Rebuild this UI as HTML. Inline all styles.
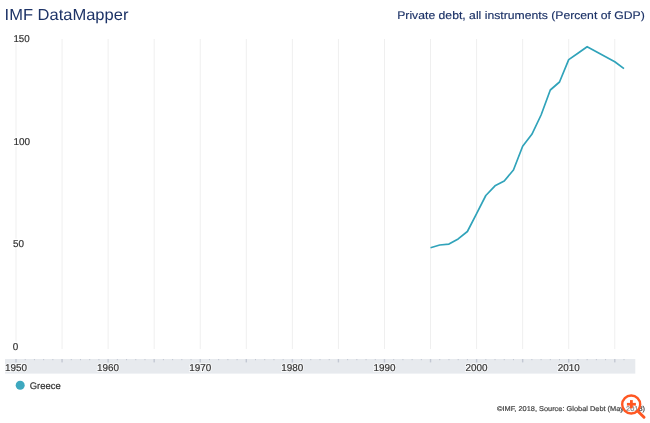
<!DOCTYPE html><html><head><meta charset="utf-8"><style>html,body{margin:0;padding:0;background:#fff;width:650px;height:423px;overflow:hidden}svg{display:block;will-change:transform;font-family:"Liberation Sans",sans-serif;text-rendering:geometricPrecision}</style></head><body>
<svg width="650" height="423" viewBox="0 0 650 423">
<line x1="16.00" y1="39" x2="16.00" y2="349" stroke="#efefef" stroke-width="1"/>
<line x1="62.06" y1="39" x2="62.06" y2="349" stroke="#efefef" stroke-width="1"/>
<line x1="108.12" y1="39" x2="108.12" y2="349" stroke="#efefef" stroke-width="1"/>
<line x1="154.18" y1="39" x2="154.18" y2="349" stroke="#efefef" stroke-width="1"/>
<line x1="200.24" y1="39" x2="200.24" y2="349" stroke="#efefef" stroke-width="1"/>
<line x1="246.30" y1="39" x2="246.30" y2="349" stroke="#efefef" stroke-width="1"/>
<line x1="292.36" y1="39" x2="292.36" y2="349" stroke="#efefef" stroke-width="1"/>
<line x1="338.42" y1="39" x2="338.42" y2="349" stroke="#efefef" stroke-width="1"/>
<line x1="384.48" y1="39" x2="384.48" y2="349" stroke="#efefef" stroke-width="1"/>
<line x1="430.54" y1="39" x2="430.54" y2="349" stroke="#efefef" stroke-width="1"/>
<line x1="476.60" y1="39" x2="476.60" y2="349" stroke="#efefef" stroke-width="1"/>
<line x1="522.66" y1="39" x2="522.66" y2="349" stroke="#efefef" stroke-width="1"/>
<line x1="568.72" y1="39" x2="568.72" y2="349" stroke="#efefef" stroke-width="1"/>
<line x1="614.78" y1="39" x2="614.78" y2="349" stroke="#efefef" stroke-width="1"/>
<text x="13.4" y="42.2" font-size="10" fill="#fff" stroke="#fff" stroke-width="3" textLength="16.3" lengthAdjust="spacingAndGlyphs">150</text>
<text x="13.4" y="42.2" font-size="10" fill="#333" stroke="#333" stroke-width="0.2" textLength="16.3" lengthAdjust="spacingAndGlyphs">150</text>
<text x="13.4" y="144.8" font-size="10" fill="#fff" stroke="#fff" stroke-width="3" textLength="16.6" lengthAdjust="spacingAndGlyphs">100</text>
<text x="13.4" y="144.8" font-size="10" fill="#333" stroke="#333" stroke-width="0.2" textLength="16.6" lengthAdjust="spacingAndGlyphs">100</text>
<text x="13.0" y="247.45" font-size="10" fill="#fff" stroke="#fff" stroke-width="3" textLength="11.0" lengthAdjust="spacingAndGlyphs">50</text>
<text x="13.0" y="247.45" font-size="10" fill="#333" stroke="#333" stroke-width="0.2" textLength="11.0" lengthAdjust="spacingAndGlyphs">50</text>
<text x="12.8" y="350.2" font-size="10" fill="#fff" stroke="#fff" stroke-width="3" textLength="5.5" lengthAdjust="spacingAndGlyphs">0</text>
<text x="12.8" y="350.2" font-size="10" fill="#333" stroke="#333" stroke-width="0.2" textLength="5.5" lengthAdjust="spacingAndGlyphs">0</text>
<rect x="5" y="359" width="630.3" height="14.6" fill="#e7eaee"/>
<rect x="15.30" y="359" width="1.4" height="3.4" fill="#c3c8d3"/>
<rect x="24.71" y="359" width="1" height="1.2" fill="#c3c8d3"/>
<rect x="33.92" y="359" width="1" height="1.2" fill="#c3c8d3"/>
<rect x="43.14" y="359" width="1" height="1.2" fill="#c3c8d3"/>
<rect x="52.35" y="359" width="1" height="1.2" fill="#c3c8d3"/>
<rect x="61.36" y="359" width="1.4" height="3.4" fill="#c3c8d3"/>
<rect x="70.77" y="359" width="1" height="1.2" fill="#c3c8d3"/>
<rect x="79.98" y="359" width="1" height="1.2" fill="#c3c8d3"/>
<rect x="89.20" y="359" width="1" height="1.2" fill="#c3c8d3"/>
<rect x="98.41" y="359" width="1" height="1.2" fill="#c3c8d3"/>
<rect x="107.42" y="359" width="1.4" height="3.4" fill="#c3c8d3"/>
<rect x="116.83" y="359" width="1" height="1.2" fill="#c3c8d3"/>
<rect x="126.04" y="359" width="1" height="1.2" fill="#c3c8d3"/>
<rect x="135.26" y="359" width="1" height="1.2" fill="#c3c8d3"/>
<rect x="144.47" y="359" width="1" height="1.2" fill="#c3c8d3"/>
<rect x="153.48" y="359" width="1.4" height="3.4" fill="#c3c8d3"/>
<rect x="162.89" y="359" width="1" height="1.2" fill="#c3c8d3"/>
<rect x="172.10" y="359" width="1" height="1.2" fill="#c3c8d3"/>
<rect x="181.32" y="359" width="1" height="1.2" fill="#c3c8d3"/>
<rect x="190.53" y="359" width="1" height="1.2" fill="#c3c8d3"/>
<rect x="199.54" y="359" width="1.4" height="3.4" fill="#c3c8d3"/>
<rect x="208.95" y="359" width="1" height="1.2" fill="#c3c8d3"/>
<rect x="218.16" y="359" width="1" height="1.2" fill="#c3c8d3"/>
<rect x="227.38" y="359" width="1" height="1.2" fill="#c3c8d3"/>
<rect x="236.59" y="359" width="1" height="1.2" fill="#c3c8d3"/>
<rect x="245.60" y="359" width="1.4" height="3.4" fill="#c3c8d3"/>
<rect x="255.01" y="359" width="1" height="1.2" fill="#c3c8d3"/>
<rect x="264.22" y="359" width="1" height="1.2" fill="#c3c8d3"/>
<rect x="273.44" y="359" width="1" height="1.2" fill="#c3c8d3"/>
<rect x="282.65" y="359" width="1" height="1.2" fill="#c3c8d3"/>
<rect x="291.66" y="359" width="1.4" height="3.4" fill="#c3c8d3"/>
<rect x="301.07" y="359" width="1" height="1.2" fill="#c3c8d3"/>
<rect x="310.28" y="359" width="1" height="1.2" fill="#c3c8d3"/>
<rect x="319.50" y="359" width="1" height="1.2" fill="#c3c8d3"/>
<rect x="328.71" y="359" width="1" height="1.2" fill="#c3c8d3"/>
<rect x="337.72" y="359" width="1.4" height="3.4" fill="#c3c8d3"/>
<rect x="347.13" y="359" width="1" height="1.2" fill="#c3c8d3"/>
<rect x="356.34" y="359" width="1" height="1.2" fill="#c3c8d3"/>
<rect x="365.56" y="359" width="1" height="1.2" fill="#c3c8d3"/>
<rect x="374.77" y="359" width="1" height="1.2" fill="#c3c8d3"/>
<rect x="383.78" y="359" width="1.4" height="3.4" fill="#c3c8d3"/>
<rect x="393.19" y="359" width="1" height="1.2" fill="#c3c8d3"/>
<rect x="402.40" y="359" width="1" height="1.2" fill="#c3c8d3"/>
<rect x="411.62" y="359" width="1" height="1.2" fill="#c3c8d3"/>
<rect x="420.83" y="359" width="1" height="1.2" fill="#c3c8d3"/>
<rect x="429.84" y="359" width="1.4" height="3.4" fill="#c3c8d3"/>
<rect x="439.25" y="359" width="1" height="1.2" fill="#c3c8d3"/>
<rect x="448.46" y="359" width="1" height="1.2" fill="#c3c8d3"/>
<rect x="457.68" y="359" width="1" height="1.2" fill="#c3c8d3"/>
<rect x="466.89" y="359" width="1" height="1.2" fill="#c3c8d3"/>
<rect x="475.90" y="359" width="1.4" height="3.4" fill="#c3c8d3"/>
<rect x="485.31" y="359" width="1" height="1.2" fill="#c3c8d3"/>
<rect x="494.52" y="359" width="1" height="1.2" fill="#c3c8d3"/>
<rect x="503.74" y="359" width="1" height="1.2" fill="#c3c8d3"/>
<rect x="512.95" y="359" width="1" height="1.2" fill="#c3c8d3"/>
<rect x="521.96" y="359" width="1.4" height="3.4" fill="#c3c8d3"/>
<rect x="531.37" y="359" width="1" height="1.2" fill="#c3c8d3"/>
<rect x="540.58" y="359" width="1" height="1.2" fill="#c3c8d3"/>
<rect x="549.80" y="359" width="1" height="1.2" fill="#c3c8d3"/>
<rect x="559.01" y="359" width="1" height="1.2" fill="#c3c8d3"/>
<rect x="568.02" y="359" width="1.4" height="3.4" fill="#c3c8d3"/>
<rect x="577.43" y="359" width="1" height="1.2" fill="#c3c8d3"/>
<rect x="586.64" y="359" width="1" height="1.2" fill="#c3c8d3"/>
<rect x="595.86" y="359" width="1" height="1.2" fill="#c3c8d3"/>
<rect x="605.07" y="359" width="1" height="1.2" fill="#c3c8d3"/>
<rect x="614.08" y="359" width="1.4" height="3.4" fill="#c3c8d3"/>
<rect x="623.49" y="359" width="1" height="1.2" fill="#c3c8d3"/>
<text x="16.00" y="370.5" font-size="10" fill="#fff" stroke="#fff" stroke-opacity="0.7" stroke-width="2" text-anchor="middle" textLength="22" lengthAdjust="spacingAndGlyphs">1950</text>
<text x="16.00" y="370.5" font-size="10" fill="#333" stroke="#333" stroke-width="0.2" text-anchor="middle" textLength="22" lengthAdjust="spacingAndGlyphs">1950</text>
<text x="108.12" y="370.5" font-size="10" fill="#fff" stroke="#fff" stroke-opacity="0.7" stroke-width="2" text-anchor="middle" textLength="22" lengthAdjust="spacingAndGlyphs">1960</text>
<text x="108.12" y="370.5" font-size="10" fill="#333" stroke="#333" stroke-width="0.2" text-anchor="middle" textLength="22" lengthAdjust="spacingAndGlyphs">1960</text>
<text x="200.24" y="370.5" font-size="10" fill="#fff" stroke="#fff" stroke-opacity="0.7" stroke-width="2" text-anchor="middle" textLength="22" lengthAdjust="spacingAndGlyphs">1970</text>
<text x="200.24" y="370.5" font-size="10" fill="#333" stroke="#333" stroke-width="0.2" text-anchor="middle" textLength="22" lengthAdjust="spacingAndGlyphs">1970</text>
<text x="292.36" y="370.5" font-size="10" fill="#fff" stroke="#fff" stroke-opacity="0.7" stroke-width="2" text-anchor="middle" textLength="22" lengthAdjust="spacingAndGlyphs">1980</text>
<text x="292.36" y="370.5" font-size="10" fill="#333" stroke="#333" stroke-width="0.2" text-anchor="middle" textLength="22" lengthAdjust="spacingAndGlyphs">1980</text>
<text x="384.48" y="370.5" font-size="10" fill="#fff" stroke="#fff" stroke-opacity="0.7" stroke-width="2" text-anchor="middle" textLength="22" lengthAdjust="spacingAndGlyphs">1990</text>
<text x="384.48" y="370.5" font-size="10" fill="#333" stroke="#333" stroke-width="0.2" text-anchor="middle" textLength="22" lengthAdjust="spacingAndGlyphs">1990</text>
<text x="476.60" y="370.5" font-size="10" fill="#fff" stroke="#fff" stroke-opacity="0.7" stroke-width="2" text-anchor="middle" textLength="22" lengthAdjust="spacingAndGlyphs">2000</text>
<text x="476.60" y="370.5" font-size="10" fill="#333" stroke="#333" stroke-width="0.2" text-anchor="middle" textLength="22" lengthAdjust="spacingAndGlyphs">2000</text>
<text x="568.72" y="370.5" font-size="10" fill="#fff" stroke="#fff" stroke-opacity="0.7" stroke-width="2" text-anchor="middle" textLength="22" lengthAdjust="spacingAndGlyphs">2010</text>
<text x="568.72" y="370.5" font-size="10" fill="#333" stroke="#333" stroke-width="0.2" text-anchor="middle" textLength="22" lengthAdjust="spacingAndGlyphs">2010</text>
<path d="M430.54,247.70 L439.75,245.00 L448.96,244.10 L458.18,238.90 L467.39,231.50 L476.60,213.60 L485.81,195.50 L495.02,185.80 L504.24,181.00 L513.45,170.00 L522.66,146.20 L531.87,134.30 L541.08,115.00 L550.30,90.00 L559.51,82.00 L568.72,59.60 L577.93,53.20 L587.14,46.70 L596.36,51.70 L605.57,56.70 L614.78,61.70 L623.99,68.60" fill="none" stroke="#30a3ba" stroke-width="1.7" stroke-linejoin="round"/>
<text x="4.6" y="20.2" font-size="16" fill="#1d3367" textLength="123.8" lengthAdjust="spacingAndGlyphs">IMF DataMapper</text>
<text x="397.2" y="18.5" font-size="11" fill="#1d3367" stroke="#1d3367" stroke-width="0.15" textLength="247.6" lengthAdjust="spacingAndGlyphs">Private debt, all instruments (Percent of GDP)</text>
<circle cx="20.2" cy="385.2" r="4.5" fill="#3ea8bf"/>
<text x="29.7" y="388.8" font-size="9.5" fill="#333" stroke="#333" stroke-width="0.2" textLength="31" lengthAdjust="spacingAndGlyphs">Greece</text>
<text x="497" y="410.9" font-size="7" fill="#444" stroke="#444" stroke-width="0.2" textLength="148" lengthAdjust="spacingAndGlyphs">©IMF, 2018, Source: Global Debt (May 2018)</text>
<circle cx="631.2" cy="404.5" r="9.0" fill="rgba(255,255,255,0.35)" stroke="#ff5722" stroke-width="2.4"/>
<line x1="638.4" y1="411.7" x2="644" y2="417.2" stroke="#ff5722" stroke-width="3" stroke-linecap="round"/>
<rect x="630" y="400.1" width="2.8" height="8.2" fill="#ff5722"/>
<rect x="626.9" y="402.9" width="9" height="2.7" fill="#ff5722"/>
</svg></body></html>
